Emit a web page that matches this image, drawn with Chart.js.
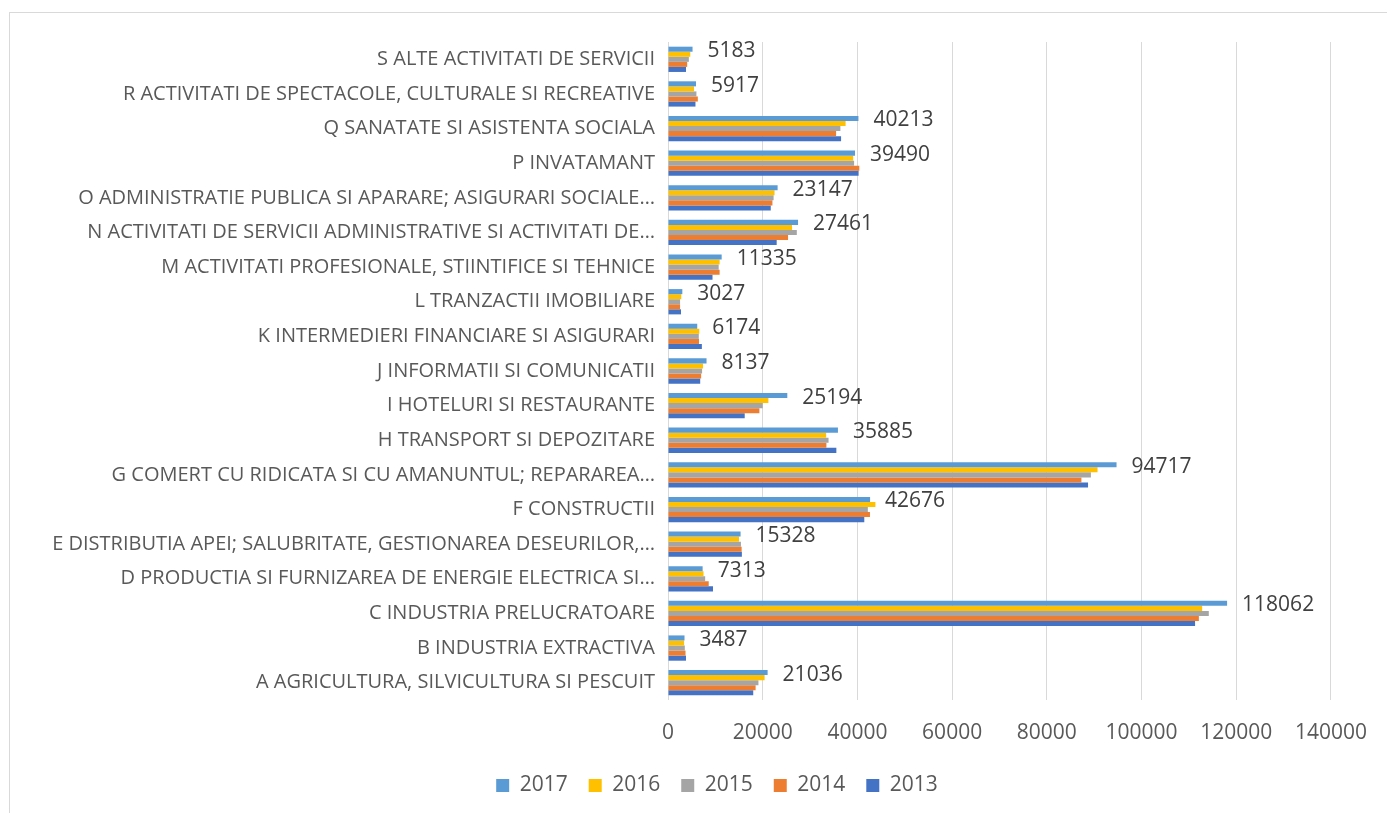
<!DOCTYPE html>
<html>
<head>
<meta charset="utf-8">
<script src="https://cdn.jsdelivr.net/npm/chart.js@4.4.1/dist/chart.umd.min.js"></script>
<style>
    body { margin: 0; background: #ffffff; }
    #frame {
        position: absolute; left: 9px; top: 12px;
        width: 1400px; height: 820px;
        border: 1px solid #d9d9d9;
    }
    #wrap { position: absolute; left: 0; top: 0; width: 1387px; height: 813px; }
</style>
</head>
<body>
<div id="frame"></div>
<div id="wrap"><canvas id="chart" width="1387" height="813"></canvas></div>
<script>
// categories listed bottom (A) to top (S)
const categories = [
    "A AGRICULTURA, SILVICULTURA SI PESCUIT",
    "B INDUSTRIA EXTRACTIVA",
    "C INDUSTRIA PRELUCRATOARE",
    "D PRODUCTIA SI FURNIZAREA DE ENERGIE ELECTRICA SI…",
    "E DISTRIBUTIA APEI; SALUBRITATE, GESTIONAREA DESEURILOR,…",
    "F CONSTRUCTII",
    "G COMERT CU RIDICATA SI CU AMANUNTUL; REPARAREA…",
    "H TRANSPORT SI DEPOZITARE",
    "I HOTELURI SI RESTAURANTE",
    "J INFORMATII SI COMUNICATII",
    "K INTERMEDIERI FINANCIARE SI ASIGURARI",
    "L TRANZACTII IMOBILIARE",
    "M ACTIVITATI PROFESIONALE, STIINTIFICE SI TEHNICE",
    "N ACTIVITATI DE SERVICII ADMINISTRATIVE SI ACTIVITATI DE…",
    "O ADMINISTRATIE PUBLICA SI APARARE; ASIGURARI SOCIALE…",
    "P INVATAMANT",
    "Q SANATATE SI ASISTENTA SOCIALA",
    "R ACTIVITATI DE SPECTACOLE, CULTURALE SI RECREATIVE",
    "S ALTE ACTIVITATI DE SERVICII"
];

const years = ["2017", "2016", "2015", "2014", "2013"];

const values2017 = [21036, 3487, 118062, 7313, 15328, 42676, 94717, 35885, 25194, 8137, 6174, 3027, 11335, 27461, 23147, 39490, 40213, 5917, 5183];
const values2016 = [20400, 3400, 112800, 7500, 15000, 43800, 90700, 33400, 21200, 7400, 6600, 2800, 10900, 26200, 22500, 39100, 37500, 5500, 4700];
const values2015 = [19100, 3550, 114200, 7850, 15400, 42200, 89300, 33900, 20000, 7200, 6500, 2550, 10700, 27200, 22300, 39300, 36400, 6000, 4400];
const values2014 = [18500, 3700, 112100, 8600, 15550, 42650, 87300, 33450, 19300, 7000, 6550, 2550, 10900, 25350, 22050, 40400, 35500, 6300, 4050];
const values2013 = [18000, 3800, 111300, 9500, 15600, 41450, 88700, 35550, 16200, 6800, 7150, 2750, 9400, 22950, 21700, 40250, 36550, 5800, 3800];

const seriesValues = [values2017, values2016, values2015, values2014, values2013];
const seriesColors = ["#5b9bd5", "#ffc000", "#a5a5a5", "#ed7d31", "#4472c4"];

const xTicksMax = 140000;
const xTicksStep = 20000;

Chart.defaults.font.family = "'Open Sans', sans-serif";
Chart.defaults.color = "#595959";

// value labels at the end of the 2017 bars
const endLabels = {
    id: "endLabels",
    afterDatasetsDraw(chart) {
        const ctx = chart.ctx;
        const meta = chart.getDatasetMeta(0);
        ctx.save();
        ctx.font = "21px 'Open Sans', sans-serif";
        ctx.fillStyle = "#404040";
        ctx.textAlign = "left";
        ctx.textBaseline = "middle";
        meta.data.forEach((bar, i) => {
            ctx.fillText(String(values2017[i]), bar.x + 15, bar.y + 2);
        });
        ctx.restore();
    }
};

new Chart(document.getElementById("chart"), {
    type: "bar",
    data: {
        labels: categories,
        datasets: years.map((y, i) => ({
            label: y,
            data: seriesValues[i],
            backgroundColor: seriesColors[i],
            borderWidth: 0,
            categoryPercentage: 0.73,
            barPercentage: 1.0
        }))
    },
    options: {
        indexAxis: "y",
        responsive: false,
        animation: false,
        layout: { padding: { top: 42, right: 0, bottom: 7, left: 47 } },
        plugins: {
            legend: {
                position: "bottom",
                labels: {
                    boxWidth: 13,
                    boxHeight: 13,
                    padding: 21,
                    color: "#595959",
                    font: { size: 21 }
                }
            },
            tooltip: { enabled: false }
        },
        scales: {
            x: {
                min: 0,
                max: xTicksMax,
                ticks: {
                    stepSize: xTicksStep,
                    padding: 20,
                    color: "#595959",
                    font: { size: 21 },
                    callback: v => String(v),
                    maxRotation: 0
                },
                grid: { color: "#d9d9d9", lineWidth: 1, drawTicks: false },
                border: { display: false },
                afterFit: s => { s.height = 54; }
            },
            y: {
                reverse: true,
                ticks: {
                    padding: 13,
                    color: "#595959",
                    font: { size: 20 },
                    autoSkip: false
                },
                grid: { display: false, drawTicks: false },
                border: { display: false },
                afterFit: s => { s.width = 621; }
            },
            // empty right-hand axis only reserves room on the right side
            spacer: {
                type: "linear",
                position: "right",
                ticks: { display: false },
                grid: { display: false, drawTicks: false },
                border: { display: false },
                afterFit: s => { s.width = 49; }
            }
        }
    },
    plugins: [endLabels]
});
</script>
</body>
</html>
